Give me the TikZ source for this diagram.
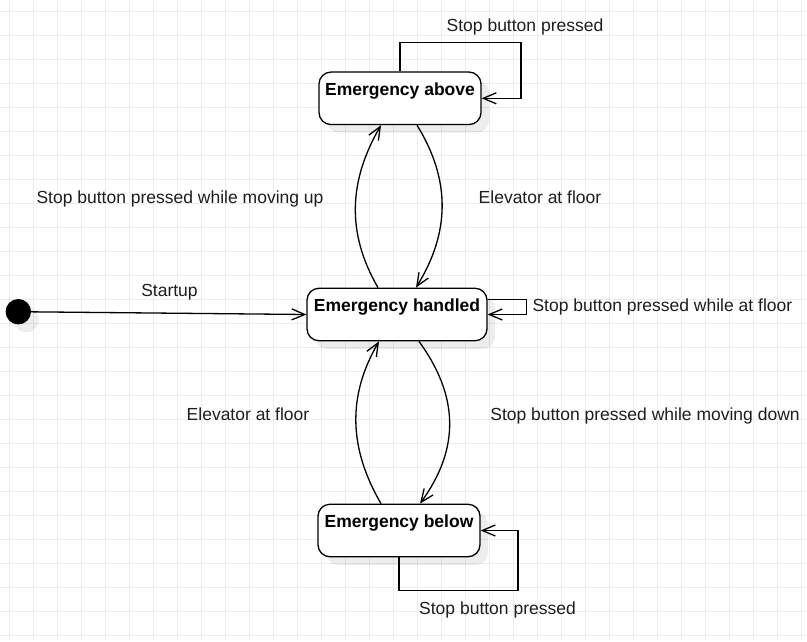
\documentclass[tikz,border=0pt]{standalone}
\usepackage{fontspec}
\setmainfont{Liberation Sans}
\usetikzlibrary{arrows.meta,shadows}
\definecolor{gridgray}{RGB}{236,236,236}
\definecolor{labeltext}{RGB}{30,30,30}
\newcommand{\labelsize}{\fontsize{17.5}{21}\selectfont}
\tikzset{
  state/.style={draw,line width=1.3pt,rounded corners=12pt,fill=white,
    inner xsep=0pt,inner ysep=0pt,text height=23pt,text depth=29.5pt,
    minimum width=162pt,font=\labelsize\bfseries,
    drop shadow={shadow xshift=8pt,shadow yshift=-8pt,opacity=0.07,fill=black}},
  initial/.style={circle,fill=black,inner sep=0pt,minimum size=25.4pt,
    drop shadow={shadow xshift=8pt,shadow yshift=-8pt,opacity=0.07,fill=black}},
  trans/.style={line width=1.3pt,-{Straight Barb[length=13pt,width=11pt]}},
  lbl/.style={anchor=base,inner sep=0pt,text=labeltext,font=\labelsize},
  gridline/.style={draw=gridgray,line width=1pt}
}
\begin{document}
\begin{tikzpicture}[x=1pt,y=-1pt]
\useasboundingbox (0,0) rectangle (807,641);
\fill[white] (0,0) rectangle (807,641);
\foreach \i in {0,...,33} \draw[gridline] (9.3+24*\i,0) -- (9.3+24*\i,641);
\foreach \j in {0,...,26} \draw[gridline] (0,11.3+24*\j) -- (807,11.3+24*\j);

\node[state] (above) at (400,98.3) {Emergency above};
\node[state,minimum width=180pt] (handled) at (397,314.5) {Emergency handled};
\node[state] (below) at (399,530.5) {Emergency below};
\node[initial] (start) at (18.3,311.7) {};

\draw[trans] (start) -- (handled.west);
\draw[trans] (above.north) -- ++(0,-29) -- ++(121,0) |- (above.east);
\draw[trans] ([yshift=15pt]handled.east) -- ++(39,0) |- (handled.east);
\draw[trans] (below.south) -- ++(0,33) -- ++(119,0) |- (below.east);
\draw[trans] ([xshift=-19pt]handled.north) .. controls +(-32,-55) and +(-32,55) .. ([xshift=-19pt]above.south);
\draw[trans] ([xshift=17pt]above.south) .. controls +(34,55) and +(34,-55) .. ([xshift=19pt]handled.north);
\draw[trans] ([xshift=-18pt]below.north) .. controls +(-32,-55) and +(-32,55) .. ([xshift=-18pt]handled.south);
\draw[trans] ([xshift=22pt]handled.south) .. controls +(40,55) and +(40,-55) .. ([xshift=21pt]below.north);

\node[lbl] (lAbove) at (525,31.7) {Stop button pressed};
\node[lbl] (lUp) at (180,203.3) {Stop button pressed while moving up};
\node[lbl] (lFloorA) at (540,203.3) {Elevator at floor};
\node[lbl] (lStart) at (169.5,296) {Startup};
\node[lbl,anchor=base west] (lHandled) at (532.3,311) {Stop button pressed while at floor};
\node[lbl] (lFloorB) at (248,420) {Elevator at floor};
\node[lbl] (lDown) at (645,420) {Stop button pressed while moving down};
\node[lbl,anchor=base west] (lBelow) at (419,614) {Stop button pressed};
\end{tikzpicture}
\end{document}
